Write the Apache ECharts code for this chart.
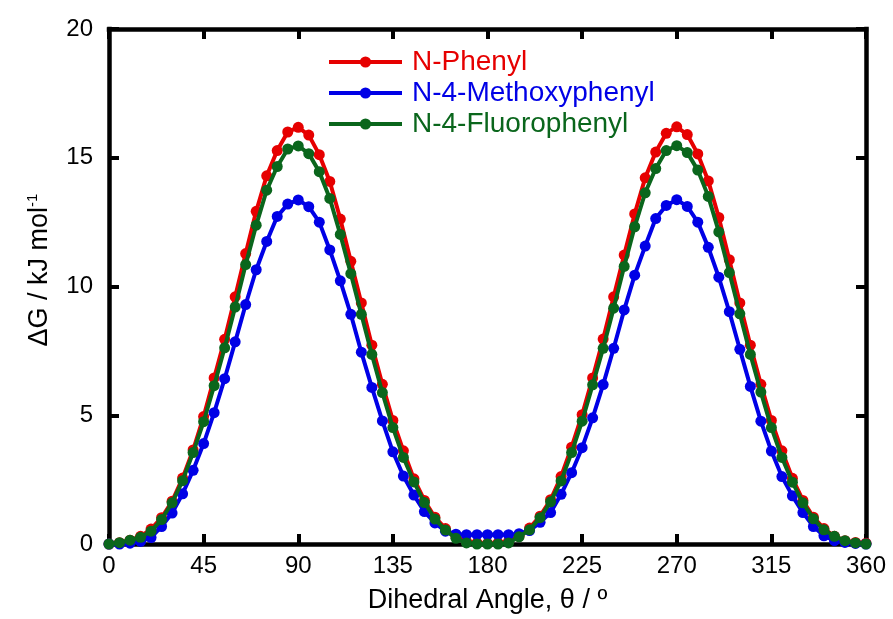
<!DOCTYPE html>
<html>
<head>
<meta charset="utf-8">
<script src="https://cdn.jsdelivr.net/npm/echarts@6/dist/echarts.min.js"></script>
<style>html,body{margin:0;padding:0;background:#fff;}#c{width:893px;height:619px;}</style>
</head>
<body>
<div id="c"></div>
<script>
const angles = [0,5,10,15,20,25,30,35,40,45,50,55,60,65,70,75,80,85,90,95,100,105,110,115,120,125,130,135,140,145,150,155,160,165,170,175,180,185,190,195,200,205,210,215,220,225,230,235,240,245,250,255,260,265,270,275,280,285,290,295,300,305,310,315,320,325,330,335,340,345,350,355,360];
const phenyl = [0,0.05,0.15,0.3,0.58,1.02,1.66,2.56,3.65,4.95,6.45,7.95,9.6,11.28,12.92,14.3,15.28,16.0,16.18,15.88,15.12,14.08,12.62,10.98,9.36,7.72,6.2,4.8,3.62,2.53,1.69,1.04,0.6,0.28,0.1,0.04,0.02,0.04,0.1,0.3,0.62,1.08,1.72,2.62,3.76,5.02,6.45,7.96,9.6,11.22,12.82,14.22,15.22,15.95,16.2,15.9,15.15,14.1,12.68,11.04,9.36,7.72,6.2,4.8,3.62,2.55,1.69,1.04,0.6,0.3,0.13,0.06,0.03];
const methoxy = [0,0,0.03,0.1,0.25,0.68,1.2,1.95,2.86,3.9,5.1,6.42,7.85,9.3,10.65,11.75,12.72,13.2,13.36,13.1,12.5,11.42,10.22,8.92,7.45,6.08,4.78,3.58,2.64,1.9,1.26,0.82,0.5,0.38,0.36,0.36,0.36,0.36,0.36,0.4,0.52,0.84,1.22,1.93,2.77,3.74,4.9,6.19,7.6,9.09,10.44,11.57,12.64,13.15,13.37,13.11,12.5,11.52,10.36,9.02,7.56,6.12,4.77,3.61,2.62,1.87,1.22,0.68,0.32,0.13,0.06,0.02,0];
const fluoro = [0,0.05,0.15,0.26,0.5,0.95,1.6,2.46,3.55,4.75,6.15,7.62,9.2,10.85,12.38,13.74,14.66,15.34,15.46,15.16,14.46,13.42,12.02,10.5,8.92,7.36,5.88,4.52,3.36,2.41,1.61,0.97,0.54,0.22,0.04,0,0,0,0.04,0.28,0.55,1.02,1.64,2.45,3.55,4.77,6.18,7.6,9.16,10.78,12.32,13.64,14.58,15.28,15.47,15.2,14.52,13.5,12.12,10.54,8.94,7.36,5.9,4.52,3.36,2.4,1.6,0.98,0.55,0.3,0.13,0.04,0];
const seriesNames = ['N-Phenyl','N-4-Methoxyphenyl','N-4-Fluorophenyl'];
const seriesColors = ['#e60000','#0000e6','#0a661c'];
const xTicks = {min:0,max:360,interval:45};
const yTicks = {min:0,max:20,interval:5};
const xTitle = 'Dihedral Angle, θ / º';
const yTitle = 'ΔG / kJ mol';
const yTitleSup = '-1';

const allData = [phenyl, methoxy, fluoro];
const FONT = 'Liberation Sans, Arial, sans-serif';
const chart = echarts.init(document.getElementById('c'), null, {renderer:'canvas'});
const mkLine = () => ({show:true, onZero:false, lineStyle:{color:'#000', width:4.5, cap:'square'}});
const mkTick = () => ({show:true, inside:true, length:10, lineStyle:{color:'#000', width:4}});
chart.setOption({
  animation:false,
  backgroundColor:'#fff',
  grid:{left:109, right:27, top:29, bottom:74, containLabel:false},
  legend:{
    orient:'vertical', left:322, top:43, itemWidth:73, itemHeight:14, itemGap:3,
    textStyle:{fontFamily:FONT, fontSize:28, padding:[0,0,0,5]},
    lineStyle:{width:4},
    data: seriesNames.map((n,i)=>({name:n, textStyle:{color:seriesColors[i]}}))
  },
  xAxis:[{
    type:'value', min:xTicks.min, max:xTicks.max, interval:xTicks.interval,
    axisLine:mkLine(), axisTick:mkTick(), splitLine:{show:false},
    axisLabel:{color:'#000', fontFamily:FONT, fontSize:24, margin:10},
    name:xTitle, nameLocation:'middle', nameGap:43,
    nameTextStyle:{color:'#000', fontFamily:FONT, fontSize:27}
  },{
    type:'value', position:'top', min:xTicks.min, max:xTicks.max, interval:xTicks.interval,
    axisLine:mkLine(), axisTick:mkTick(), axisLabel:{show:false}, splitLine:{show:false}
  }],
  yAxis:[{
    type:'value', min:yTicks.min, max:yTicks.max, interval:yTicks.interval,
    axisLine:mkLine(), axisTick:mkTick(), splitLine:{show:false},
    axisLabel:{color:'#000', fontFamily:FONT, fontSize:24, margin:16}
  },{
    type:'value', position:'right', min:yTicks.min, max:yTicks.max, interval:yTicks.interval,
    axisLine:mkLine(), axisTick:mkTick(), axisLabel:{show:false}, splitLine:{show:false}
  }],
  graphic:[{
    type:'text', x:40, y:270, rotation:Math.PI/2,
    style:{
      text:'{a|'+yTitle+'}{s|'+yTitleSup+'}',
      align:'center', verticalAlign:'middle',
      rich:{a:{fontFamily:FONT, fontSize:27, fill:'#000', color:'#000'},
            s:{fontFamily:FONT, fontSize:15, fill:'#000', color:'#000', verticalAlign:'top', padding:[0,0,14,0]}}
    }
  }],
  series: allData.map((d,i)=>({
    name:seriesNames[i], type:'line', clip:false,
    data: angles.map((a,j)=>[a,d[j]]),
    symbol:'circle', symbolSize:11, showSymbol:true,
    lineStyle:{color:seriesColors[i], width:4},
    itemStyle:{color:seriesColors[i]},
    z: 2+i
  }))
});
</script>
</body>
</html>
